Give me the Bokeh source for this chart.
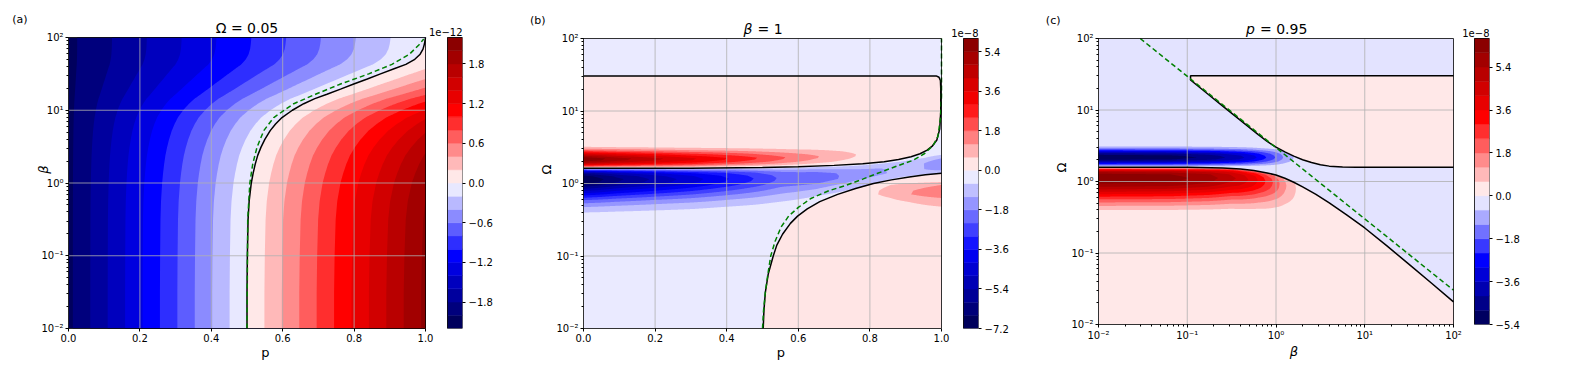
import numpy as np
from bokeh.plotting import figure
from bokeh.models import (Range1d, LinearScale, LinearAxis, FixedTicker,
                          CustomJSTickFormatter, Label)
from bokeh.layouts import row
from bokeh.embed import file_html
from bokeh.resources import INLINE

FONT = "DejaVu Sans"

# ======================= DATA =======================
# ---- panel (a): Omega = 0.05, x = p, y = beta (log) ----
a_levels = [-2.2, -2.0, -1.8, -1.6, -1.4, -1.2, -1.0, -0.8, -0.6, -0.4, -0.2, 0.0,
            0.2, 0.4, 0.6, 0.8, 1.0, 1.2, 1.4, 1.6, 1.8, 2.0, 2.2]
a_cb_ticks = [-1.8, -1.2, -0.6, 0.0, 0.6, 1.2, 1.8]
a_xticks = [0.0, 0.2, 0.4, 0.6, 0.8, 1.0]
# zero contour (black line): log10(beta) -> p
a_logbeta = [-2.0, -1.5, -1.0, -0.5, -0.25, 0.0, 0.13, 0.26, 0.38, 0.49, 0.6, 0.72, 0.81, 0.9,
             1.0, 1.09, 1.16, 1.22, 1.29, 1.36, 1.43, 1.5, 1.57, 1.63, 1.7, 1.77, 1.84, 1.91, 2.0]
a_p_zero = [0.500, 0.500, 0.501, 0.503, 0.506, 0.512, 0.517, 0.523, 0.530, 0.539, 0.550, 0.565,
            0.580, 0.598, 0.627, 0.659, 0.690, 0.724, 0.762, 0.799, 0.837, 0.874, 0.912, 0.945,
            0.970, 0.985, 0.993, 0.997, 1.0]
a_value_at_p0 = -2.05          # field value (x1e-12) along p = 0
a_green_logbeta = [-2.0, -0.5, 0.0, 0.26, 0.49, 0.72, 0.9, 1.09, 1.22, 1.36, 1.5, 1.63, 1.77, 1.9, 1.98]
a_green_p = [0.500, 0.502, 0.508, 0.516, 0.528, 0.547, 0.575, 0.631, 0.692, 0.762, 0.841, 0.906,
             0.955, 0.982, 0.995]

# ---- panel (b): beta = 1, x = p, y = Omega (log) ----
b_levels = [-7.2, -6.6, -6.0, -5.4, -4.8, -4.2, -3.6, -3.0, -2.4, -1.8, -1.2, -0.6, 0.0,
            0.6, 1.2, 1.8, 2.4, 3.0, 3.6, 4.2, 4.8, 5.4, 6.0]
b_cb_ticks = [-7.2, -5.4, -3.6, -1.8, 0.0, 1.8, 3.6, 5.4]
b_xticks = [0.0, 0.2, 0.4, 0.6, 0.8, 1.0]
# zero contour A (encloses the upper pink region)
b_lineA_p = [0.0, 0.3, 0.5, 0.6, 0.7, 0.78, 0.84, 0.88, 0.915, 0.94, 0.96, 0.975, 0.987, 0.995, 0.998,
             0.998, 0.997, 0.993, 0.985, 0.5, 0.0]
b_lineA_logO = [0.21, 0.212, 0.222, 0.232, 0.25, 0.272, 0.3, 0.33, 0.37, 0.41, 0.46, 0.52, 0.6, 0.75, 1.0,
                1.3, 1.42, 1.465, 1.484, 1.484, 1.484]
b_lineA_lower_n = 15
# zero contour B (lower right pink region)
b_lineB_p = [0.502, 0.504, 0.508, 0.516, 0.53, 0.54, 0.556, 0.578, 0.598, 0.625, 0.66, 0.71, 0.76,
             0.81, 0.86, 0.91, 0.955, 1.0]
b_lineB_logO = [-2.0, -1.75, -1.5, -1.25, -1.0, -0.85, -0.7, -0.55, -0.45, -0.35, -0.25, -0.15,
                -0.07, 0.0, 0.05, 0.09, 0.12, 0.14]
b_green_p = [0.50, 0.503, 0.508, 0.515, 0.523, 0.535, 0.552, 0.573, 0.60, 0.635, 0.685, 0.735, 0.78,
             0.82, 0.87, 0.921, 0.953, 0.977, 0.99, 0.997, 1.0, 1.0]
b_green_logO = [-2.0, -1.75, -1.5, -1.25, -1.0, -0.8, -0.6, -0.45, -0.33, -0.207, -0.1, -0.023, 0.06,
                0.138, 0.23, 0.321, 0.414, 0.528, 0.65, 0.9, 1.2, 2.0]
# vertical profile of the blobs along p = 0 (x1e-8)
b_prof_logO = [-0.70, -0.50, -0.40, -0.33, -0.28, -0.23, -0.18, -0.13, -0.08, -0.03, 0.02, 0.06, 0.10,
               0.14, 0.17, 0.195, 0.215, 0.235, 0.26, 0.29, 0.32, 0.345, 0.37, 0.40, 0.43, 0.455, 0.48,
               0.505, 0.55, 0.62]
b_prof_val = [-0.2, -0.3, -0.6, -1.15, -1.7, -2.4, -3.3, -4.3, -5.3, -6.3, -7.0, -7.15, -6.8, -5.8,
              -4.0, -1.8, 0.0, 1.8, 3.6, 5.0, 5.8, 5.9, 5.2, 4.2, 3.0, 2.0, 1.2, 0.6, 0.4, 0.2]
# relative strength of the blobs along p
b_decay_p = [0.0, 0.04, 0.095, 0.197, 0.299, 0.392, 0.475, 0.559, 0.661, 0.763, 0.88, 1.0]
b_decay = [1.0, 0.95, 0.86, 0.74, 0.63, 0.52, 0.42, 0.31, 0.2, 0.1, 0.03, 0.0]
# small red blob at the right edge
b_rblob_logO = [-0.45, -0.32, -0.25, -0.2, -0.15, -0.1, -0.02, 0.02, 0.12]
b_rblob_val = [0.0, 0.6, 0.9, 1.2, 1.7, 1.65, 1.2, 0.6, 0.0]
b_rblob_p = [0.6, 0.75, 0.823, 0.87, 0.915, 0.96, 1.0]
b_rblob_amp = [0.0, 0.15, 0.353, 0.55, 0.706, 0.87, 1.0]
# weak blue stripe between the zero contours
b_stripe_p = [0.55, 0.65, 0.75, 0.85, 0.92, 1.0]
b_stripe_center = [0.05, 0.08, 0.12, 0.18, 0.22, 0.265]
b_stripe_d = [-0.25, -0.13, -0.04, 0.04, 0.13, 0.25]
b_stripe_shape = [0.0, 0.36, 1.0, 1.0, 0.36, 0.0]
b_stripe_amp_p = [0.55, 0.65, 0.8, 0.9, 0.95, 0.98, 1.0]
b_stripe_amp = [0.0, 0.7, 0.8, 0.9, 1.1, 1.5, 1.7]

# ---- panel (c): p = 0.95, x = beta (log), y = Omega (log) ----
c_levels = [-5.4, -4.8, -4.2, -3.6, -3.0, -2.4, -1.8, -1.2, -0.6, 0.0, 0.6, 1.2, 1.8, 2.4, 3.0,
            3.6, 4.2, 4.8, 5.4, 6.0, 6.6]
c_cb_ticks = [-5.4, -3.6, -1.8, 0.0, 1.8, 3.6, 5.4]
c_C1_logb = [2.0, -0.963, -0.963, -0.8, -0.6, -0.4, -0.2, -0.1, 0.0, 0.1, 0.2, 0.3, 0.4, 0.5, 0.6,
             0.75, 0.9, 2.0]
c_C1_logO = [1.479, 1.479, 1.42, 1.255, 1.055, 0.855, 0.655, 0.56, 0.48, 0.415, 0.355, 0.305, 0.265,
             0.235, 0.215, 0.203, 0.2, 0.2]
c_C2_logb = [-2.0, -1.0, -0.6, -0.4, -0.25, -0.1, 0.0, 0.1, 0.2, 0.3, 0.45, 0.6, 0.8, 1.0, 1.25,
             1.5, 1.75, 2.0]
c_C2_logO = [0.2, 0.198, 0.19, 0.175, 0.155, 0.12, 0.09, 0.045, -0.01, -0.075, -0.18, -0.3, -0.47,
             -0.65, -0.9, -1.16, -1.42, -1.684]
c_green_logb = [-1.53, 2.0]
c_green_logO = [2.0, -1.52]
c_prof_logO = [-0.60, -0.47, -0.40, -0.35, -0.30, -0.25, -0.20, -0.15, -0.10, -0.05, 0.00, 0.05,
               0.10, 0.14, 0.165, 0.185, 0.20, 0.225, 0.25, 0.28, 0.31, 0.335, 0.36, 0.39, 0.415,
               0.44, 0.465, 0.49, 0.53, 0.62]
c_prof_val = [0.1, 0.3, 0.6, 1.1, 1.7, 2.4, 3.2, 4.1, 5.0, 5.8, 6.3, 6.5, 6.2, 5.2, 3.5, 1.5, 0.0,
              -1.3, -2.6, -4.0, -5.0, -5.3, -5.1, -4.4, -3.4, -2.2, -1.2, -0.6, -0.3, -0.1]
c_decay_logb = [-2.0, -1.2, -0.76, -0.41, -0.25, -0.107, 0.0, 0.1, 0.22, 0.35, 0.6]
c_decay = [1.0, 0.97, 0.88, 0.72, 0.6, 0.45, 0.33, 0.2, 0.095, 0.03, 0.0]
c_red_shift_logb = [-2.0, -0.5, -0.2, 0.0, 0.15, 0.3]
c_red_shift = [0.0, 0.0, -0.03, -0.07, -0.12, -0.18]

y_decades = [0.01, 0.1, 1.0, 10.0, 100.0]


# ======================= STYLE HELPERS =======================
def seismic(t):
    pts = [0.0, 0.25, 0.5, 0.75, 1.0]
    r = [0.0, 0.0, 1.0, 1.0, 0.5]
    g = [0.0, 0.0, 1.0, 0.0, 0.0]
    b = [0.3, 1.0, 1.0, 0.0, 0.0]
    return "#%02x%02x%02x" % tuple(int(round(255 * float(np.interp(t, pts, c)))) for c in (r, g, b))


def band_colors(levels):
    vmin, vmax = levels[0], levels[-1]
    out = []
    for lo, hi in zip(levels[:-1], levels[1:]):
        m = 0.5 * (lo + hi)
        t = 0.5 * (1 + m / vmax) if m >= 0 else 0.5 * (1 - m / vmin)
        out.append(seismic(t))
    return out


LOG_JS = """
const e = Math.round(Math.log10(tick));
const m = {'-':'\u207b','0':'\u2070','1':'\u00b9','2':'\u00b2','3':'\u00b3','4':'\u2074',
           '5':'\u2075','6':'\u2076','7':'\u2077','8':'\u2078','9':'\u2079'};
return '10' + String(e).split('').map(c => m[c]).join('');
"""
CB_JS = "return tick.toFixed(1).replace('-', '\u2212');"
LIN_JS = "return tick.toFixed(1);"


def style_axis(ax, label, label_style, label_standoff=4):
    ax.axis_label = label
    ax.axis_label_text_font = FONT
    ax.axis_label_text_font_size = "13px"
    ax.axis_label_text_font_style = label_style
    ax.axis_label_text_color = "black"
    ax.axis_label_standoff = label_standoff
    ax.major_label_text_font = FONT
    ax.major_label_text_font_size = "10px"
    ax.major_label_text_color = "black"
    ax.major_label_standoff = 2
    ax.axis_line_color = "black"
    ax.axis_line_width = 0.8
    ax.major_tick_line_color = "black"
    ax.major_tick_in = 0
    ax.major_tick_out = 3
    ax.minor_tick_line_color = "black"
    ax.minor_tick_in = 0
    ax.minor_tick_out = 2


TOP_Y = 10      # window y of the frame top (frame includes the title strip)
TOTAL_H = 378


def build(plot_left, plot_top, plot_w, plot_h, gap, cbw, bl, br, xlog, x_lo, x_hi,
          levels, cb_ticks, panel_text, panel_standoff):
    extra = plot_top - TOP_Y
    fh = plot_h + extra
    fw = plot_w + gap + cbw
    if xlog:
        span = np.log10(x_hi) - np.log10(x_lo)
        xr = Range1d(x_lo, 10 ** (np.log10(x_lo) + span * fw / plot_w))
    else:
        xr = Range1d(x_lo, x_lo + (x_hi - x_lo) * fw / plot_w)
    yr = Range1d(0.01, 10 ** (2 + 4 * extra / plot_h))
    f = figure(frame_width=fw, frame_height=fh, min_border_left=bl, min_border_right=br,
               min_border_top=TOP_Y, min_border_bottom=TOTAL_H - TOP_Y - fh,
               x_axis_type="log" if xlog else "linear", y_axis_type="log",
               x_range=xr, y_range=yr, toolbar_location=None,
               output_backend="svg", outline_line_color=None)
    f.grid.visible = False
    cb_top = levels[-1] + (levels[-1] - levels[0]) * extra / plot_h
    f.extra_x_ranges = {"px": Range1d(0, fw)}
    f.extra_x_scales = {"px": LinearScale()}
    f.extra_y_ranges = {"py": Range1d(0, fh), "cb": Range1d(levels[0], cb_top)}
    f.extra_y_scales = {"py": LinearScale(), "cb": LinearScale()}
    # colour bar
    cols = band_colors(levels)
    f.quad(left=plot_w + gap, right=fw, bottom=levels[:-1], top=levels[1:], fill_color=cols,
           line_color=cols, line_width=0.5, x_range_name="px", y_range_name="cb")
    f.quad(left=plot_w + gap, right=fw, bottom=levels[0], top=levels[-1], fill_color=None,
           line_color="black", line_width=0.8, x_range_name="px", y_range_name="cb")
    cax = LinearAxis(y_range_name="cb", ticker=FixedTicker(ticks=cb_ticks, minor_ticks=[]),
                     formatter=CustomJSTickFormatter(code=CB_JS), bounds=(levels[0], levels[-1]))
    style_axis(cax, "", "normal")
    cax.axis_line_color = None
    cax.major_label_standoff = 3
    f.add_layout(cax, "right")
    # axes
    xa = f.xaxis[0]
    xa.bounds = (x_lo, x_hi)
    ya = f.yaxis[0]
    ya.bounds = (0.01, 100.0)
    ya.formatter = CustomJSTickFormatter(code=LOG_JS)
    # panel letter as an outer left axis label
    pax = LinearAxis(y_range_name="py", ticker=FixedTicker(ticks=[plot_h + 18], minor_ticks=[]),
                     formatter=CustomJSTickFormatter(code="return '%s';" % panel_text),
                     axis_line_color=None, major_tick_line_color=None, minor_tick_line_color=None,
                     major_tick_in=0, major_tick_out=0, major_label_standoff=panel_standoff,
                     major_label_text_font=FONT, major_label_text_font_size="11px",
                     major_label_text_color="black")
    f.add_layout(pax, "left")
    return f, cols, fw


BIG = 1.0e3


def fill_up(f, x, y, z, levels, cols):
    """stacked fills: region z >= level_k painted with the colour of band k (ascending)"""
    for k in range(len(cols)):
        f.contour(x=x, y=y, z=z, levels=[levels[k], BIG], fill_color=[cols[k]], line_color=None)


def fill_down(f, x, y, z, levels, cols):
    """stacked fills for negative bands: region z <= upper level, from 0 downwards"""
    for k in range(len(cols) - 1, -1, -1):
        f.contour(x=x, y=y, z=z, levels=[-BIG, levels[k + 1]], fill_color=[cols[k]], line_color=None)


def frame_lines(f, xt, x0, x1):
    f.segment(x0=xt, y0=y_decades[0], x1=xt, y1=y_decades[-1], line_color="#b0b0b0", line_width=0.8)
    f.segment(x0=x0, y0=y_decades[1:-1], x1=x1, y1=y_decades[1:-1], line_color="#b0b0b0", line_width=0.8)


def spines(f, x0, x1):
    f.segment(x0=x0, y0=y_decades[-1], x1=x1, y1=y_decades[-1], line_color="black", line_width=0.8)
    f.segment(x0=x1, y0=y_decades[0], x1=x1, y1=y_decades[-1], line_color="black", line_width=0.8)


def lab(f, x, y, text, size, align="left", baseline="alphabetic", style="normal"):
    f.add_layout(Label(x=x, y=y, x_range_name="px", y_range_name="py", text=text,
                       text_font=FONT, text_font_size=size, text_align=align,
                       text_baseline=baseline, text_font_style=style, text_color="black"))


# ======================= PANEL (a) =======================
pw_a, ph_a = 357, 291
fa, cols_a, fw_a = build(68, 37, pw_a, ph_a, 22, 15, 68, 50, False, 0.0, 1.0, a_levels, a_cb_ticks,
                         "(a)", 6)
pa = np.linspace(0, 1, 301)
lba = np.linspace(-2, 2, 301)
PA, LBA = np.meshgrid(pa, lba)
p0 = np.interp(LBA, a_logbeta, a_p_zero)
za = a_value_at_p0 * (1 - PA / p0)
fill_up(fa, pa, 10 ** lba, za, a_levels, cols_a)
frame_lines(fa, a_xticks[1:-1], 0.0, 1.0)
fa.line(a_p_zero, [10 ** v for v in a_logbeta], line_color="black", line_width=1.5)
fa.line(a_green_p, [10 ** v for v in a_green_logbeta], line_color="green", line_width=1.5,
        line_dash="5 3")
spines(fa, 0.0, 1.0)
fa.xaxis[0].ticker = FixedTicker(ticks=a_xticks, minor_ticks=[])
fa.xaxis[0].formatter = CustomJSTickFormatter(code=LIN_JS)
style_axis(fa.xaxis[0], "p", "normal", 0)
style_axis(fa.yaxis[0], "\u03b2", "italic", -13)
lab(fa, pw_a / 2, ph_a + 10, "\u03a9 = 0.05", "14px", align="center")
lab(fa, fw_a, ph_a + 6, "1e\u221212", "10px", align="right")

# ======================= PANEL (b) =======================
pw_b, ph_b = 358, 290
fb, cols_b, fw_b = build(583, 38, pw_b, ph_b, 22, 15, 71, 50, False, 0.0, 1.0, b_levels, b_cb_ticks,
                         "(b)", -9)
lav_b = cols_b[b_levels.index(0.0) - 1]
pink_b = cols_b[b_levels.index(0.0)]
fb.quad(left=0, right=1, bottom=0.01, top=100, fill_color=lav_b, line_color=None)
fb.patch(b_lineA_p, [10 ** v for v in b_lineA_logO], fill_color=pink_b, line_color=None)
fb.patch(b_lineB_p + [1.0], [10 ** v for v in b_lineB_logO] + [0.01], fill_color=pink_b, line_color=None)

pb = np.linspace(0, 1, 401)
lob = np.linspace(-1.0, 1.0, 601)
PB, LOB = np.meshgrid(pb, lob)
A_low = np.interp(PB, b_lineA_p[:b_lineA_lower_n], b_lineA_logO[:b_lineA_lower_n])
B_lo = np.interp(PB, b_lineB_p, b_lineB_logO, left=-10.0)
shift = A_low - b_lineA_logO[0]
main_b = np.interp(LOB - shift, b_prof_logO, b_prof_val) * np.interp(PB, b_decay_p, b_decay)
red_b = np.where((main_b > 0) & (LOB > A_low), main_b, 0.0)
blue_b = np.where((main_b < 0) & (LOB < A_low) & (LOB > B_lo), main_b, 0.0)
rb = np.interp(LOB, b_rblob_logO, b_rblob_val) * np.interp(PB, b_rblob_p, b_rblob_amp)
rb = np.where(LOB < B_lo, rb, 0.0)
st_c = np.interp(PB, b_stripe_p, b_stripe_center)
st = -np.interp(LOB - st_c, b_stripe_d, b_stripe_shape) * np.interp(PB, b_stripe_amp_p, b_stripe_amp)
st = np.where((LOB < A_low) & (LOB > B_lo), st, 0.0)
zb = red_b + blue_b + rb + st
k0 = b_levels.index(0.0)
fill_up(fb, pb, 10 ** lob, zb, b_levels[k0 + 1:], cols_b[k0 + 1:])
fill_down(fb, pb, 10 ** lob, zb, b_levels[:k0], cols_b[:k0 - 1])
frame_lines(fb, b_xticks[1:-1], 0.0, 1.0)
fb.line(b_lineA_p, [10 ** v for v in b_lineA_logO], line_color="black", line_width=1.5)
fb.line(b_lineB_p, [10 ** v for v in b_lineB_logO], line_color="black", line_width=1.5)
fb.line(b_green_p, [10 ** v for v in b_green_logO], line_color="green", line_width=1.5, line_dash="5 3")
spines(fb, 0.0, 1.0)
fb.xaxis[0].ticker = FixedTicker(ticks=b_xticks, minor_ticks=[])
fb.xaxis[0].formatter = CustomJSTickFormatter(code=LIN_JS)
style_axis(fb.xaxis[0], "p", "normal", 0)
style_axis(fb.yaxis[0], "\u03a9", "normal", -1)
lab(fb, pw_b / 2 - 10, ph_b + 10, "\u03b2", "14px", align="right", style="italic")
lab(fb, pw_b / 2 - 5, ph_b + 10, "= 1", "14px", align="left")
lab(fb, fw_b, ph_b + 6, "1e\u22128", "10px", align="right")

# ======================= PANEL (c) =======================
pw_c, ph_c = 355, 286
fc, cols_c, fw_c = build(1098, 38, pw_c, ph_c, 21, 15, 70, 45, True, 0.01, 100.0, c_levels, c_cb_ticks,
                         "(c)", -9)
lav_c = cols_c[c_levels.index(0.0) - 1]
pink_c = cols_c[c_levels.index(0.0)]
fc.quad(left=0.01, right=100, bottom=0.01, top=100, fill_color=lav_c, line_color=None)
fc.patch([10 ** v for v in c_C1_logb], [10 ** v for v in c_C1_logO], fill_color=pink_c, line_color=None)
fc.patch([10 ** v for v in c_C2_logb] + [100.0, 0.01], [10 ** v for v in c_C2_logO] + [0.01, 0.01],
         fill_color=pink_c, line_color=None)
lbc = np.linspace(-2, 2, 501)
loc = np.linspace(-1.0, 1.0, 601)
XC, LOC = np.meshgrid(lbc, loc)
C2 = np.interp(XC, c_C2_logb, c_C2_logO)
C1low = np.interp(XC, c_C1_logb[2:], c_C1_logO[2:], left=10.0)
rshift = np.interp(XC, c_red_shift_logb, c_red_shift)
dec_c = np.interp(XC, c_decay_logb, c_decay)
red_c = np.interp(LOC - rshift, c_prof_logO, c_prof_val) * dec_c
red_c = np.where((red_c > 0) & (LOC < C2), red_c, 0.0)
blue_c = np.interp(LOC, c_prof_logO, c_prof_val) * dec_c
blue_c = np.where((blue_c < 0) & (LOC > C2) & (LOC < C1low), blue_c, 0.0)
zc = red_c + blue_c
k0 = c_levels.index(0.0)
fill_up(fc, 10 ** lbc, 10 ** loc, zc, c_levels[k0 + 1:], cols_c[k0 + 1:])
fill_down(fc, 10 ** lbc, 10 ** loc, zc, c_levels[:k0], cols_c[:k0 - 1])
frame_lines(fc, y_decades[1:-1], 0.01, 100.0)
fc.line([10 ** v for v in c_C1_logb], [10 ** v for v in c_C1_logO], line_color="black", line_width=1.5)
fc.line([10 ** v for v in c_C2_logb], [10 ** v for v in c_C2_logO], line_color="black", line_width=1.5)
fc.line([10 ** v for v in c_green_logb], [10 ** v for v in c_green_logO], line_color="green",
        line_width=1.5, line_dash="5 3")
spines(fc, 0.01, 100.0)
fc.xaxis[0].formatter = CustomJSTickFormatter(code=LOG_JS)
style_axis(fc.xaxis[0], "\u03b2", "italic", 0)
style_axis(fc.yaxis[0], "\u03a9", "normal", -1)
lab(fc, pw_c / 2 - 21, ph_c + 10, "p", "14px", align="right", style="italic")
lab(fc, pw_c / 2 - 16, ph_c + 10, "= 0.95", "14px", align="left")
lab(fc, fw_c, ph_c + 6, "1e\u22128", "10px", align="right")

layout = row(fa, fb, fc)
open("out.html", "w").write(file_html(layout, INLINE))
